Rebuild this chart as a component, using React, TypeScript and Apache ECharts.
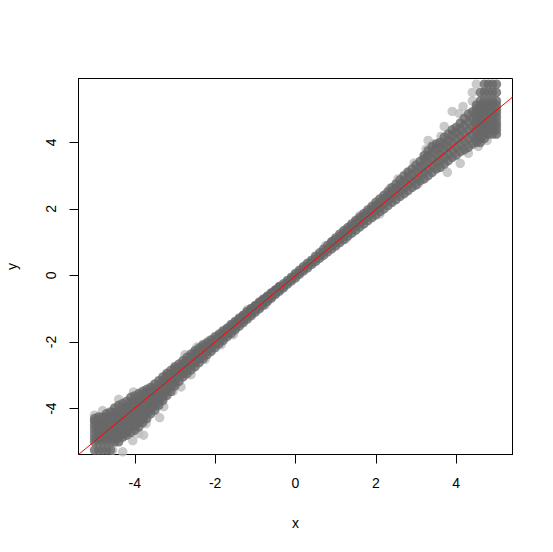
import React, { useEffect, useRef } from "react";
import * as echarts from "echarts";

const xRange = [-5.4, 5.4];
const yRange = [-5.38, 5.92];
const tickValues = [-4, -2, 0, 2, 4];
const refLineX = [-5.4, 5.4];
const refLineY = [-5.38, 5.36];

// each row: x, followed by the y values read in that column
const negativeColumns = [
  [-5.0, -5.25, -5, -4.88, -4.75, -4.62, -4.5, -4.38, -4.3],
  [-4.9, -5.25, -5, -4.88, -4.75, -4.62, -4.5, -4.38, -4.25],
  [-4.8, -5.25, -5, -4.88, -4.75, -4.62, -4.5, -4.38, -4.25],
  [-4.7, -5.25, -5, -4.88, -4.75, -4.62, -4.5, -4.38, -4.25, -4.15],
  [-4.6, -5.25, -5, -4.88, -4.75, -4.62, -4.5, -4.38, -4.25, -4.1],
  [-4.5, -5, -4.88, -4.75, -4.62, -4.5, -4.38, -4.25, -4.12, -3.98],
  [-4.4, -5, -4.88, -4.75, -4.62, -4.5, -4.38, -4.25, -4.12, -3.9],
  [-4.3, -4.86, -4.75, -4.62, -4.5, -4.38, -4.25, -4.12, -4, -3.85],
  [-4.2, -4.8, -4.7, -4.58, -4.45, -4.32, -4.2, -4.08, -3.95, -3.78],
  [-4.1, -4.72, -4.55, -4.42, -4.3, -4.18, -4.05, -3.92, -3.8, -3.66],
  [-4.0, -4.65, -4.52, -4.4, -4.28, -4.15, -4.02, -3.9, -3.78, -3.62],
  [-3.9, -4.55, -4.42, -4.3, -4.18, -4.05, -3.92, -3.8, -3.68, -3.55],
  [-3.8, -4.42, -4.32, -4.2, -4.08, -3.95, -3.82, -3.7, -3.58, -3.48],
  [-3.7, -4.3, -4.18, -4.05, -3.95, -3.85, -3.72, -3.6, -3.5, -3.42],
  [-3.6, -4.15, -4.05, -3.95, -3.82, -3.7, -3.6, -3.5, -3.36],
  [-3.5, -4.05, -3.92, -3.8, -3.7, -3.6, -3.5, -3.4, -3.26],
  [-3.4, -3.9, -3.8, -3.7, -3.6, -3.5, -3.4, -3.3, -3.16],
  [-3.3, -3.75, -3.65, -3.55, -3.45, -3.35, -3.25, -3.15, -3.05],
  [-3.2, -3.6, -3.5, -3.4, -3.3, -3.2, -3.1, -3.0, -2.94],
  [-3.1, -3.48, -3.35, -3.25, -3.15, -3.05, -2.95, -2.85],
  [-3.0, -3.32, -3.22, -3.1, -3.0, -2.9, -2.8, -2.74],
  [-2.9, -3.18, -3.05, -2.95, -2.85, -2.76, -2.66],
  [-2.8, -3.05, -2.95, -2.85, -2.75, -2.66, -2.56],
  [-2.7, -2.95, -2.85, -2.75, -2.65, -2.56, -2.46],
  [-2.6, -2.84, -2.72, -2.62, -2.52, -2.44, -2.36],
  [-2.5, -2.74, -2.62, -2.52, -2.42, -2.34, -2.26],
  [-2.4, -2.62, -2.5, -2.42, -2.32, -2.24, -2.18],
  [-2.3, -2.5, -2.4, -2.32, -2.22, -2.14, -2.08],
  [-2.2, -2.38, -2.28, -2.2, -2.12, -2.02],
  [-2.1, -2.28, -2.18, -2.1, -2.02, -1.94],
  [-2.0, -2.17, -2.08, -2.0, -1.92, -1.84],
  [-1.9, -2.05, -1.97, -1.9, -1.82, -1.76],
  [-1.8, -1.95, -1.87, -1.8, -1.72, -1.66],
  [-1.7, -1.84, -1.76, -1.68, -1.62, -1.58],
  [-1.6, -1.74, -1.66, -1.58, -1.52, -1.47],
  [-1.5, -1.63, -1.56, -1.48, -1.42, -1.38],
  [-1.4, -1.52, -1.44, -1.38, -1.32, -1.28],
  [-1.3, -1.42, -1.35, -1.28, -1.22, -1.19],
  [-1.2, -1.31, -1.24, -1.18, -1.12, -1.08],
  [-1.1, -1.21, -1.14, -1.08, -1.02, -0.99],
  [-1.0, -1.1, -1.04, -0.98, -0.93, -0.9],
  [-0.9, -1.0, -0.94, -0.88, -0.83, -0.8],
  [-0.8, -0.89, -0.83, -0.78, -0.73, -0.71],
  [-0.7, -0.78, -0.73, -0.68, -0.64, -0.62],
  [-0.6, -0.68, -0.63, -0.58, -0.54, -0.52],
  [-0.5, -0.57, -0.53, -0.48, -0.45, -0.43],
  [-0.4, -0.47, -0.42, -0.38, -0.35, -0.33],
  [-0.3, -0.37, -0.31, -0.25],
  [-0.2, -0.26, -0.21, -0.15],
  [-0.1, -0.16, -0.1, -0.05],
];

const positiveColumns = [
  [0.0, -0.07, 0, 0.06],
  [0.1, 0.04, 0.1, 0.16],
  [0.2, 0.14, 0.2, 0.27],
  [0.3, 0.23, 0.3, 0.37],
  [0.4, 0.33, 0.39, 0.46],
  [0.5, 0.42, 0.5, 0.58],
  [0.6, 0.52, 0.6, 0.68],
  [0.7, 0.61, 0.7, 0.79],
  [0.8, 0.71, 0.8, 0.9],
  [0.9, 0.8, 0.89, 0.98, 1.02],
  [1.0, 0.89, 0.98, 1.07, 1.13],
  [1.1, 0.99, 1.08, 1.17, 1.24],
  [1.2, 1.08, 1.18, 1.28, 1.35],
  [1.3, 1.18, 1.28, 1.38, 1.44],
  [1.4, 1.27, 1.38, 1.48, 1.55],
  [1.5, 1.36, 1.48, 1.59, 1.66],
  [1.6, 1.46, 1.58, 1.69, 1.75],
  [1.7, 1.55, 1.67, 1.79, 1.86],
  [1.8, 1.65, 1.78, 1.9, 1.97],
  [1.9, 1.74, 1.87, 2.0, 2.08],
  [2.0, 1.82, 1.96, 2.1, 2.2],
  [2.1, 1.92, 2.06, 2.2, 2.3],
  [2.2, 2.0, 2.16, 2.32, 2.41],
  [2.3, 2.1, 2.26, 2.42, 2.52],
  [2.4, 2.2, 2.36, 2.52, 2.64],
  [2.5, 2.28, 2.45, 2.62, 2.75],
  [2.6, 2.38, 2.55, 2.73, 2.87],
  [2.7, 2.46, 2.64, 2.83, 3.0],
  [2.8, 2.55, 2.74, 2.93, 3.1],
  [2.9, 2.65, 2.84, 3.03, 3.2],
  [3.0, 2.72, 2.92, 3.12, 3.32],
  [3.1, 2.85, 3.05, 3.25, 3.43],
  [3.2, 2.9, 3.1, 3.3, 3.5, 3.6],
  [3.3, 3.0, 3.2, 3.4, 3.6, 3.75],
  [3.4, 3.1, 3.3, 3.5, 3.7, 3.88],
  [3.5, 3.2, 3.4, 3.6, 3.8, 3.95],
  [3.6, 3.25, 3.45, 3.65, 3.85, 4.0],
  [3.7, 3.35, 3.55, 3.75, 3.95, 4.15],
  [3.8, 3.45, 3.65, 3.85, 4.05, 4.25],
  [3.9, 3.55, 3.78, 4.0, 4.22, 4.38],
  [4.0, 3.62, 3.85, 4.08, 4.3, 4.45],
  [4.1, 3.72, 3.95, 4.18, 4.4, 4.58],
  [4.2, 3.78, 4.02, 4.26, 4.5, 4.72],
  [4.3, 3.85, 4.1, 4.35, 4.6, 4.85],
  [4.4, 3.95, 4.2, 4.45, 4.7, 4.92],
  [4.5, 4.0, 4.12, 4.25, 4.38, 4.5, 4.62, 4.75, 4.88, 5, 5.12],
  [4.6, 4.0, 4.12, 4.25, 4.38, 4.5, 4.62, 4.75, 4.88, 5, 5.12, 5.25, 5.5],
  [4.7, 4.12, 4.25, 4.38, 4.5, 4.62, 4.75, 4.88, 5, 5.12, 5.25, 5.5, 5.75],
  [4.8, 4.25, 4.38, 4.5, 4.62, 4.75, 4.88, 5, 5.12, 5.25, 5.5, 5.75],
  [4.9, 4.25, 4.38, 4.5, 4.62, 4.75, 4.88, 5, 5.12, 5.25, 5.5, 5.75],
  [5.0, 4.25, 4.38, 4.5, 4.62, 4.75, 4.88, 5, 5.12, 5.25, 5.5, 5.75],
];

// single, paler marks around the band
const fringeX = [
  -5, -4.8, -4.55, -4.4, -4.3, -4.05, -4.03, -3.9, -3.78, -3.72, -3.55, -3.38, -3.28, -3.05, -2.85, -2.6, -2.45, -2.15, -1.85, -1.55,
  -2.25, -2.75, -1.2, -0.75, 0.75, 1.25, 1.6, 2.1, 2.35, 2.55, 2.8, 2.95, 3.05, 3.25, 3.3, 3.42, 3.62, 3.7, 3.78, 3.9,
  4.07, 4.1, 4.17, 4.3, 4.4, 4.4, 4.5, 4.55, 4.77,
];
const fringeY = [
  -4.2, -4.06, -5.25, -3.72, -5.3, -4.96, -3.5, -4.75, -4.8, -4.45, -3.35, -4.27, -3.94, -3.48, -3.35, -2.98, -2.15, -1.95, -2.08, -1.78,
  -2.52, -2.38, -1.03, -0.88, 0.9, 1.1, 1.8, 1.85, 2.62, 2.9, 3.12, 3.38, 2.75, 3.8, 4.06, 3.95, 4.18, 4.48, 3.1, 4.93,
  4.87, 3.37, 5.08, 3.67, 5.5, 5.25, 5.75, 3.88, 4.06,
];

const columns = [...negativeColumns, ...positiveColumns];
const corePoints = columns.flatMap((c) => c.slice(1).map((y) => [c[0], y]));
const fringePoints = fringeX.map((x, i) => [x, fringeY[i]]);

export default function App() {
  const ref = useRef<HTMLDivElement>(null);
  useEffect(() => {
    document.body.style.margin = "0";
    const chart = echarts.init(ref.current!, undefined, { renderer: "svg" });
    const font = "'Liberation Sans', Arial, sans-serif";
    const axisCommon = {
      type: "value" as const,
      splitLine: { show: false },
      axisLine: { show: true, onZero: false, lineStyle: { color: "#000", width: 1 } },
      axisTick: {
        show: true,
        length: 9,
        customValues: tickValues,
        lineStyle: { color: "#000", width: 1 },
      },
      nameLocation: "middle" as const,
      nameTextStyle: { color: "#000", fontFamily: font, fontSize: 14 },
    };
    chart.setOption({
      animation: false,
      backgroundColor: "#fff",
      grid: {
        left: 78.5,
        top: 78.5,
        width: 434,
        height: 376,
        outerBoundsMode: "none",
        show: true,
        borderColor: "#000",
        borderWidth: 1,
        backgroundColor: "transparent",
      },
      xAxis: {
        ...axisCommon,
        min: xRange[0],
        max: xRange[1],
        name: "x",
        nameGap: 61,
        axisLabel: {
          customValues: tickValues,
          color: "#000",
          fontFamily: font,
          fontSize: 14,
          margin: 21,
        },
      },
      yAxis: {
        ...axisCommon,
        min: yRange[0],
        max: yRange[1],
        name: "y",
        nameGap: 60,
        axisLabel: {
          customValues: tickValues,
          color: "#000",
          fontFamily: font,
          fontSize: 14,
          rotate: 90,
          margin: 21,
        },
      },
      series: [
        {
          type: "scatter",
          data: fringePoints,
          symbol: "circle",
          symbolSize: 9.5,
          itemStyle: { color: "#bdbdbd", borderWidth: 0 },
          silent: true,
          z: 2,
        },
        {
          type: "scatter",
          data: corePoints,
          symbol: "circle",
          symbolSize: 9.5,
          itemStyle: { color: "#686868", borderWidth: 0 },
          silent: true,
          z: 3,
        },
        {
          type: "line",
          data: refLineX.map((x, i) => [x, refLineY[i]]),
          showSymbol: false,
          symbol: "none",
          lineStyle: { color: "#ff0000", width: 1 },
          silent: true,
          z: 5,
        },
      ],
    });
    return () => chart.dispose();
  }, []);
  return <div ref={ref} style={{ width: 553, height: 552 }} />;
}
